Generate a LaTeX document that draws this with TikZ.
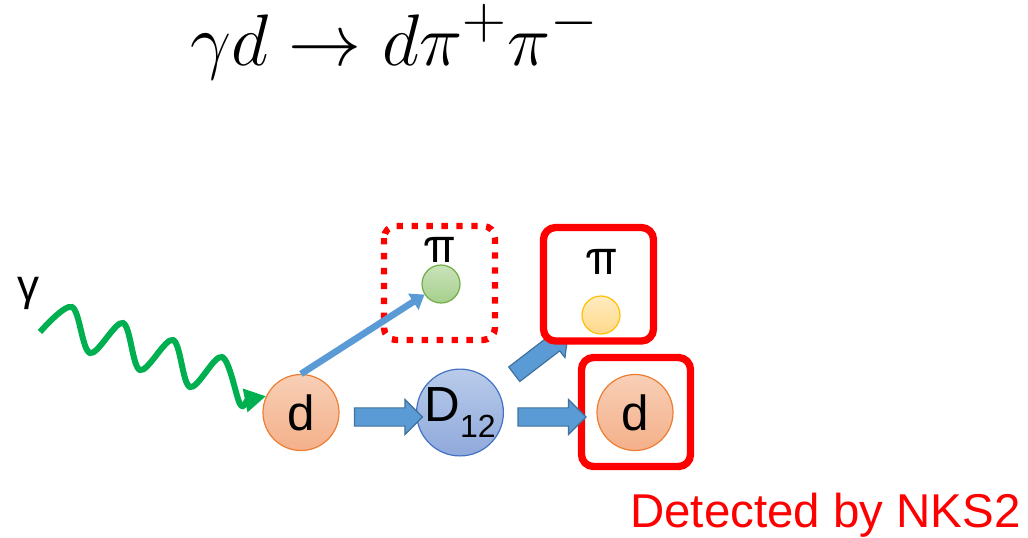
\documentclass[tikz,border=0pt]{standalone}
\usepackage{fontspec}
\setmainfont{Liberation Sans}
\newfontfamily\pifont{TeX Gyre Heros}
\usetikzlibrary{shapes.arrows,arrows.meta,calc}
\definecolor{photongreen}{HTML}{00B050}
\definecolor{arrowblue}{HTML}{5B9BD5}
\definecolor{arrowborder}{HTML}{41719C}
\definecolor{dtop}{HTML}{F8CFB6}
\definecolor{dbot}{HTML}{F4B08A}
\definecolor{dline}{HTML}{ED7D31}
\definecolor{Dtop}{HTML}{B9CBEA}
\definecolor{Dbot}{HTML}{8FA9DB}
\definecolor{Dline}{HTML}{4472C4}
\definecolor{gtop}{HTML}{C9E2BA}
\definecolor{gbot}{HTML}{A6CF8B}
\definecolor{gline}{HTML}{70AD47}
\definecolor{ytop}{HTML}{FFEBC0}
\definecolor{ybot}{HTML}{FFD98A}
\definecolor{yline}{HTML}{FFC000}
\definecolor{detred}{HTML}{FF0000}
\begin{document}
\begin{tikzpicture}[x=0.75pt,y=-0.75pt,
  ball/.style={circle, minimum size=57pt, inner sep=0pt, line width=0.9pt},
  smallball/.style={circle, minimum size=28.5pt, inner sep=0pt, line width=0.9pt},
  dball/.style={ball, draw=dline, top color=dtop, bottom color=dbot},
  blockarrow/.style={single arrow, draw=arrowborder, fill=arrowblue, line width=0.9pt,
    minimum height=51pt, inner xsep=0pt, inner ysep=6.4pt, single arrow head extend=6.4pt,
    single arrow head indent=0pt},
  redbox/.style={draw=detred, fill=white, line width=5.5pt, rounded corners=9pt},
  dotbox/.style={draw=detred, line width=4.8pt, rounded corners=9pt, dash pattern=on 4.8pt off 6.4pt},
  biglabel/.style={font=\pifont\fontsize{36}{40}\selectfont, inner sep=0pt},
  photon/.style={draw=photongreen, line width=4.5pt, -{Triangle[length=16pt,width=17pt]}},
  thinarrow/.style={draw=arrowblue, line width=5pt, -{Triangle[length=10pt,width=14pt]}}]
\useasboundingbox (0,0) rectangle (1028,537);

% title
\node[inner sep=0pt, anchor=base] (title) at (395,65) {\scalebox{2.2}{\Huge $\gamma d \rightarrow d\pi^{+}\pi^{-}$}};

% gamma label
\node[inner sep=0pt, font=\fontsize{33}{36}\selectfont] (glabel) at (28,293) {γ};

% particles
\node[dball] (d) at (301,412.5) {\fontsize{37}{40}\selectfont d};
\node[ball, draw=Dline, top color=Dtop, bottom color=Dbot] (D) at (460,412.5) {\fontsize{37}{40}\selectfont D\raisebox{-0.32em}{\fontsize{24}{26}\selectfont 12}};

% dotted box with pion
\draw[dotbox] (384,226) rectangle (495,340);
\node[smallball, draw=gline, top color=gtop, bottom color=gbot] (pig) at (441,284) {};
\node[biglabel] (pilabel1) at (440,250) {π};

% arrows
\node[blockarrow] (a1) at ($(d)!0.5!(D)+(3.5,4.5)$) {};
\node[blockarrow, rotate=37.5] (a3) at (537.6,356.3) {};

% solid boxes
\draw[redbox] (543.5,227.5) rectangle (653.5,341);
\draw[redbox] (581.5,357.5) rectangle (690.5,466.5);
\node[smallball, draw=yline, top color=ytop, bottom color=ybot] (piy) at (601,315) {};
\node[biglabel] (pilabel2) at (602,262) {π};
\node[dball] (d2) at (635,412.5) {\fontsize{37}{40}\selectfont d};
\node[blockarrow] (a2) at ($(D)!0.5!(d2)+(0,4.5)$) {};

% thin arrow d -> pi
\draw[thinarrow] (d.north) -- (pig);

% photon
\coordinate (gstart) at (40,332);
\draw[photon] plot[smooth, tension=0.55] coordinates {(gstart) (72,307) (90,353) (123,323) (140,370) (173,340) (190,387) (222,357) (240,404) (247,400)} -- (d.155);

% detected label
\node[anchor=base east, inner sep=0pt, text=detred, font=\fontsize{35.6}{40}\selectfont] (det) at (1021,527) {Detected by NKS2};
\end{tikzpicture}
\end{document}
